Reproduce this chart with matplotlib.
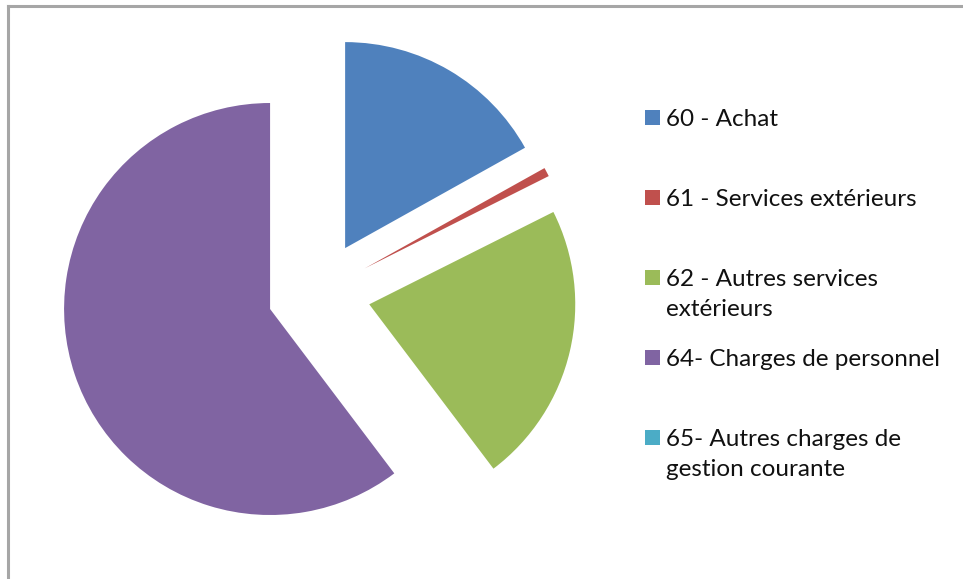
import matplotlib.pyplot as plt
from matplotlib.patches import Rectangle
from matplotlib.lines import Line2D

# data (share of total, %)
labels = ["60 - Achat", "61 - Services extérieurs", "62 - Autres services\nextérieurs",
          "64- Charges de personnel", "65- Autres charges de\ngestion courante"]
values = [16.9, 0.7, 22.1, 60.3, 0.0]
colors = ["#4F81BD", "#C0504D", "#9BBB59", "#8064A2", "#4BACC6"]

W, H = 963, 579
fig = plt.figure(figsize=(W / 100, H / 100), dpi=100)
ax = fig.add_axes([0, 0, 1, 1])

# exploded pie, all slices pulled out the same amount (explode is in data units here)
ax.pie(values, colors=colors, startangle=90, counterclock=False,
       explode=[51.6] * len(values), radius=206, center=(319, H - 292.6),
       wedgeprops=dict(linewidth=0))
ax.set_xlim(0, W)
ax.set_ylim(0, H)
ax.set_aspect("equal")
ax.axis("off")

# chart frame (right and bottom edges are cut off)
ax.add_line(Line2D([8, W + 5], [H - 5.5, H - 5.5], color="#A6A6A6", lw=2.2))
ax.add_line(Line2D([8, 8], [-5, H - 5.5], color="#A6A6A6", lw=2.2))

# legend, one entry every 80 px
for i, (lab, col) in enumerate(zip(labels, colors)):
    yc = H - (117 + 80 * i)
    ax.add_patch(Rectangle((645, yc - 7.5), 15, 15, facecolor=col, edgecolor="none"))
    ax.text(666, yc + 8, lab, fontsize=17.5, family="Lato", color="#111111",
            va="top", ha="left", linespacing=1.5)

fig.savefig("out.png", dpi=100)
